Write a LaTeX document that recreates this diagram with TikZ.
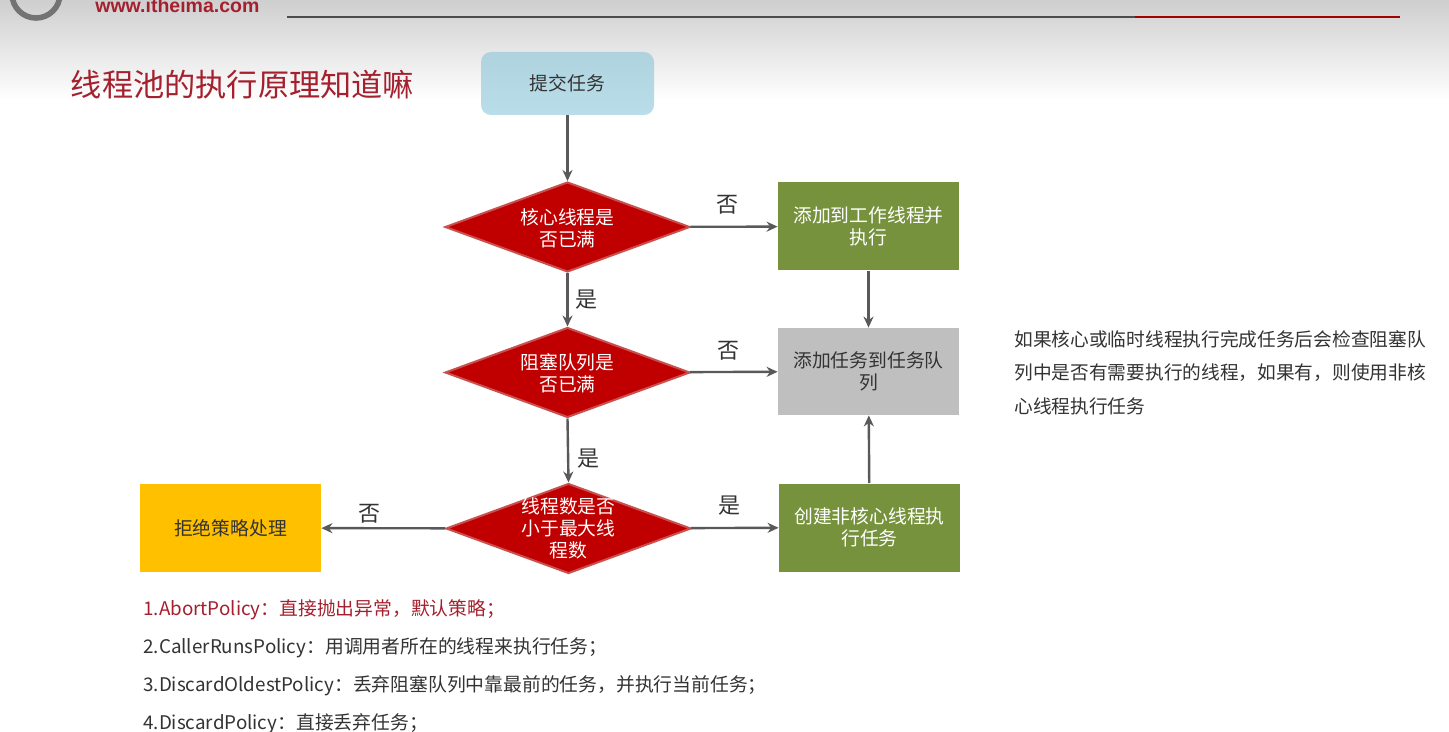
\documentclass[tikz,border=0pt]{standalone}
\usepackage{fontspec}
\setmainfont{Noto Sans CJK SC}
\newfontfamily\logofont{Liberation Sans}
\usetikzlibrary{shapes.geometric,arrows.meta}
\definecolor{arrowgray}{HTML}{595959}
\definecolor{deepred}{HTML}{C00000}
\definecolor{diaedge}{HTML}{C9504D}
\definecolor{olive}{HTML}{76923C}
\definecolor{boxgray}{HTML}{BFBFBF}
\definecolor{amber}{HTML}{FFC000}
\definecolor{titlered}{HTML}{A5202E}
\definecolor{bodytext}{HTML}{333333}
\definecolor{skytop}{HTML}{AFD3DE}
\definecolor{skybottom}{HTML}{B9DEEA}
\tikzset{
  px/.style={x=0.5pt,y=-0.5pt},
  flowbox/.style={minimum width=90.5pt,minimum height=44pt,inner sep=2pt,align=center,font=\fontsize{9.4}{11}\selectfont,text=bodytext},
  greenbox/.style={flowbox,fill=olive,text=white},
  dia/.style={diamond,draw=diaedge,line width=1pt,fill=deepred,minimum width=122.5pt,minimum height=45pt,inner sep=0pt},
  diatext/.style={text=white,align=center,inner sep=0pt,font=\fontsize{9.4}{11}\selectfont},
  flow/.style={draw=arrowgray,line width=1.2pt,-{Stealth[length=5.5pt,width=5pt]}},
  decision/.style={font=\fontsize{11}{13}\selectfont,text=bodytext,inner sep=0pt},
  listitem/.style={anchor=west,font=\fontsize{9.4}{12}\selectfont,text=bodytext,inner sep=0pt},
}
\begin{document}
\begin{tikzpicture}[px]
\useasboundingbox (0,0) rectangle (1449,732);
\fill[white] (0,0) rectangle (1449,732);
\shade[top color=black!19,bottom color=white] (0,0) rectangle (1449,100);
\begin{scope}
\clip (0,0) rectangle (1449,732);
\draw[black!55,line width=2.8pt] (36,-6) circle (24);
\node[anchor=base west,inner sep=0pt,text=titlered,font=\logofont\bfseries\fontsize{9.75}{11}\selectfont] (site) at (95,12.5) {www.itheima.com};
\end{scope}
\coordinate (ruleA) at (287,17);
\coordinate (ruleB) at (1135,17);
\coordinate (ruleC) at (1400,17);
\draw[black!70,line width=1.2pt] (ruleA) -- (ruleB);
\draw[deepred!85!black,line width=1.2pt] (ruleB) -- (ruleC);

\node[anchor=west,inner sep=0pt,text=titlered,font=\fontsize{15.6}{18}\selectfont] (title) at (70.5,84.5) {线程池的执行原理知道嘛};

\node[flowbox,rounded corners=5pt,minimum width=86.5pt,minimum height=31.5pt,top color=skytop,bottom color=skybottom] (submit) at (567.5,83.5) {提交任务};

\node[dia,label={[diatext,yshift=-0.5pt]center:核心线程是\\否已满}] (d1) at (567.5,227) {};
\node[dia,label={[diatext,yshift=-0.5pt]center:阻塞队列是\\否已满}] (d2) at (567.5,372.5) {};
\node[dia,label={[diatext]center:线程数是否\\小于最大线\\程数}] (d3) at (568.5,528.5) {};

\node[greenbox] (g1) at (868.5,226.5) {添加到工作线程并\\执行};
\node[flowbox,fill=boxgray,minimum height=43.5pt] (queue) at (868.5,371.5) {添加任务到任务队\\列};
\node[greenbox] (g3) at (869.5,527.5) {创建非核心线程执\\行任务};
\node[flowbox,fill=amber] (reject) at (230.5,528) {拒绝策略处理};

\draw[flow] (submit) -- (d1);
\draw[flow] (d1) -- (d2);
\draw[flow] (d2.south) -- (d3.north);
\draw[flow] (d1) -- (g1);
\draw[flow] (d2) -- (queue);
\draw[flow] (g1) -- (queue);
\draw[flow] (g3) -- (queue);
\draw[flow] (d3) -- (g3);
\draw[flow] (d3) -- (reject);

\node[decision] (no1) at (727,205) {否};
\node[decision] (yes1) at (586,300) {是};
\node[decision] (no2) at (728,351) {否};
\node[decision] (yes2) at (588,459) {是};
\node[decision] (no3) at (369,514) {否};
\node[decision] (yes3) at (729,506) {是};

\node[listitem,text=titlered] (p1) at (143,610) {1.AbortPolicy：直接抛出异常，默认策略；};
\node[listitem] (p2) at (143,648) {2.CallerRunsPolicy：用调用者所在的线程来执行任务；};
\node[listitem] (p3) at (143,686) {3.DiscardOldestPolicy：丢弃阻塞队列中靠最前的任务，并执行当前任务；};
\node[listitem] (p4) at (143,724) {4.DiscardPolicy：直接丢弃任务；};

\node[anchor=north west,inner sep=0pt,align=left,text=bodytext,font=\fontsize{9.35}{16.75}\selectfont] (note) at (1014,330) {如果核心或临时线程执行完成任务后会检查阻塞队\\列中是否有需要执行的线程，如果有，则使用非核\\心线程执行任务};
\end{tikzpicture}
\end{document}
